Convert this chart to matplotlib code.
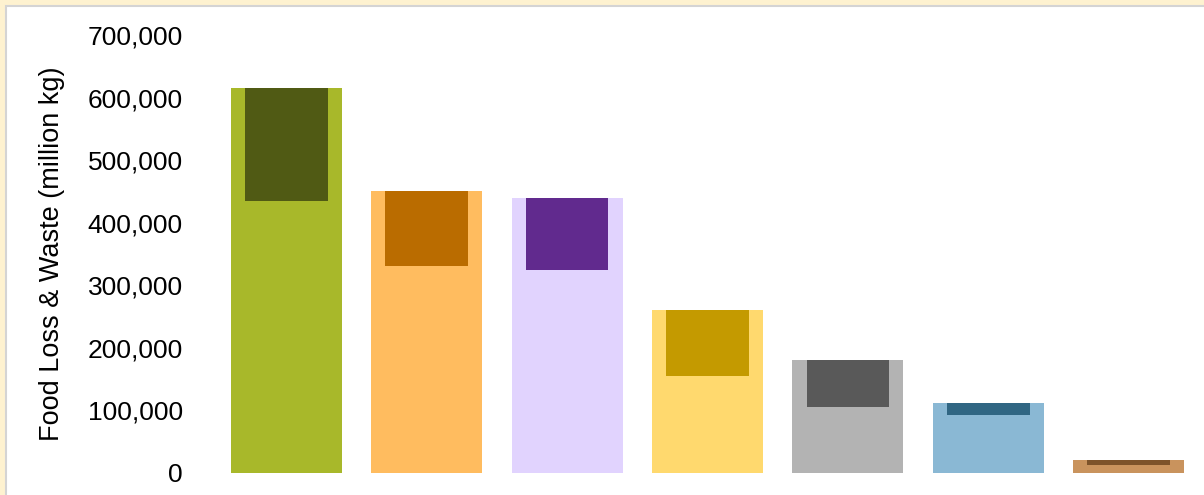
import matplotlib
matplotlib.use('Agg')
import matplotlib.pyplot as plt
from matplotlib.patches import Rectangle
from matplotlib.ticker import FuncFormatter
import numpy as np

# total food loss & waste per category (million kg) and the level where the dark top part starts
totals = [615000, 450500, 439500, 260500, 180500, 112000, 20800]
dark_bottoms = [434500, 331000, 324500, 155000, 105500, 92700, 13000]

light_colors = ['#A8B82A', '#FFBC5F', '#E1D3FE', '#FFD96E', '#B3B3B3', '#8AB8D4', '#C9935D']
dark_colors = ['#505A14', '#BA6C00', '#612A8E', '#C49A00', '#595959', '#306683', '#7D532A']

yticks = [0, 100000, 200000, 300000, 400000, 500000, 600000, 700000]

plt.rcParams['font.family'] = ['Liberation Sans', 'DejaVu Sans']

W, H = 1204, 495
fig = plt.figure(figsize=(W / 100, H / 100), dpi=100, facecolor='#FEF2D0')

# white panel with thin grey frame (cropped at right / bottom)
fig.patches.append(Rectangle((6 / W, -0.1), 1.1, (H - 6) / H + 0.1,
                             transform=fig.transFigure, facecolor='white',
                             edgecolor='#D4D4D4', linewidth=1.5, zorder=-5))

ax = fig.add_axes([216 / W, 22 / H, (1199 - 216) / W, (473 - 35) / H])
ax.set_facecolor('none')
ax.set_zorder(2)

x = np.arange(len(totals))
ax.bar(x, totals, width=0.79, color=light_colors, zorder=2)
dark_heights = [t - b for t, b in zip(totals, dark_bottoms)]
ax.bar(x, dark_heights, bottom=dark_bottoms, width=0.59, color=dark_colors, zorder=3)

ax.set_xlim(-0.5, len(totals) - 0.5)
ax.set_ylim(0, 700000)
ax.set_yticks(yticks)
ax.yaxis.set_major_formatter(FuncFormatter(lambda v, p: f'{int(v):,}'))
ax.tick_params(axis='y', length=0, pad=24, labelsize=19, colors='black')
ax.set_xticks([])
for s in ax.spines.values():
    s.set_visible(False)

ax.set_ylabel('Food Loss & Waste (million kg)', fontsize=19.5, labelpad=16)

fig.savefig('out.png', dpi=100, facecolor=fig.get_facecolor())
